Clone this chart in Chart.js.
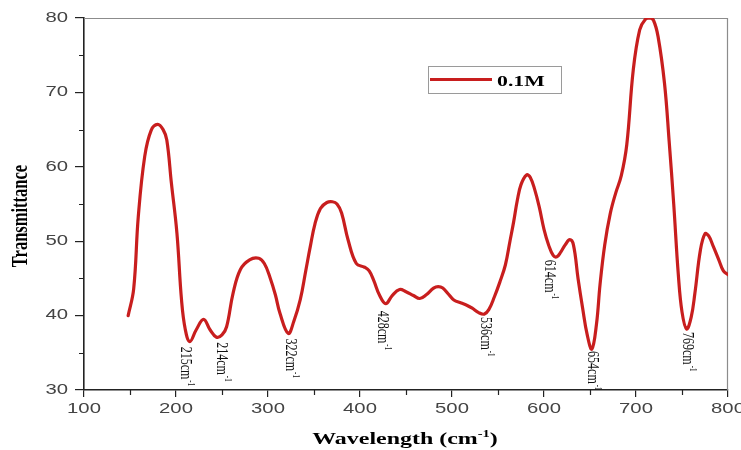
<!DOCTYPE html>
<html>
<head>
<meta charset="utf-8">
<script src="https://cdn.jsdelivr.net/npm/chart.js@4.4.1/dist/chart.umd.min.js"></script>
<style>
  html, body { margin: 0; padding: 0; background: #ffffff; }
  #wrap { width: 741px; height: 450px; }
</style>
</head>
<body>
<div id="wrap"><canvas id="c" width="741" height="450"></canvas></div>
<script>
// FTIR spectrum, 0.1M sample
const seriesLabel = '0.1M';

const wavenumbers = [
  148, 154, 159, 166, 173, 180, 186, 190, 195, 201, 206, 210, 215, 222, 230, 237, 244, 250, 255,
  262, 270, 280, 290, 296, 302, 308, 313, 322, 328, 335, 341, 346, 351, 357, 364, 370, 375, 380,
  387, 396, 405, 410, 415, 421, 428, 435, 443, 450, 458, 465, 472, 480, 485, 490, 496, 502, 510,
  516, 522, 529, 535, 540, 546, 552, 558, 563, 567, 571, 575, 581, 585, 590, 595, 600, 605, 610,
  614, 618, 623, 628, 632, 637, 642, 647, 652, 657, 661, 666, 672, 678, 684, 690, 697, 704, 710,
  715, 719, 724, 731, 736, 741, 746, 750, 755, 760, 764, 770, 775, 779, 784, 790, 795, 800
];

const transmittance = [
  40.0, 43.6, 53.3, 61.4, 64.9, 65.7, 65.0, 63.6, 57.8, 51.1, 42.1, 38.2, 36.5, 38.1, 39.5, 38.1, 37.1, 37.4, 38.5,
  43.0, 46.2, 47.5, 47.7, 47.0, 45.2, 42.8, 40.3, 37.6, 39.2, 42.1, 46.0, 49.3, 52.3, 54.4, 55.2, 55.3, 55.0, 53.8,
  50.2, 47.0, 46.5, 46.0, 44.7, 42.8, 41.6, 42.7, 43.5, 43.2, 42.7, 42.3, 42.8, 43.7, 43.9, 43.7, 42.9, 42.1, 41.7,
  41.4, 41.0, 40.4, 40.2, 40.8, 42.5, 44.5, 46.8, 50.0, 52.6, 55.5, 57.6, 58.9, 58.6, 56.9, 54.5, 51.6, 49.5, 48.1,
  47.9, 48.5, 49.5, 50.2, 49.5, 45.0, 41.0, 37.4, 35.5, 38.8, 44.3, 49.5, 53.7, 56.5, 58.8, 63.0, 73.0, 78.4, 79.8,
  80.0, 79.7, 77.5, 71.2, 63.5, 55.0, 45.5, 40.5, 38.2, 39.8, 43.0, 48.8, 51.0, 50.7, 49.3, 47.5, 46.0, 45.5
];

// Band minima that carry a label, and the text printed beside each
const bandPositions = [215, 244, 322, 428, 535, 614, 652, 755];
const bandLabels = ['215cm', '214cm', '322cm', '428cm', '536cm', '614cm', '654cm', '769cm'];

// Axis ticks
const xTickLabels = ['100', '200', '300', '400', '500', '600', '700', '800'];
const yTickLabels = ['30', '40', '50', '60', '70', '80'];
const xMinorTicks = [150, 250, 350, 450, 550, 650, 750];
const yMinorTicks = [35, 45, 55, 65, 75];

const xTitle = 'Wavelength (cm';
const yTitle = 'Transmittance';

const LINE_RED = '#c81e1e';
const SX = 1.45; // horizontal text stretch

function stretchedText(ctx, text, x, y, o) {
  ctx.save();
  ctx.translate(x, y);
  ctx.scale(o.sx || SX, 1);
  if (o.rot) ctx.rotate(o.rot);
  ctx.font = o.font;
  ctx.fillStyle = o.color || '#000';
  ctx.textAlign = o.align || 'left';
  ctx.textBaseline = o.baseline || 'alphabetic';
  ctx.fillText(text, 0, 0);
  ctx.restore();
}

// pixel nudges for each band label relative to its minimum
const bandNudge = [[-9, 5], [1, 5], [-2, 5], [-8, 7], [-3, 3], [-12, 3], [-4, 2], [-4, 3]];

const decorations = {
  id: 'decorations',
  beforeDatasetsDraw(chart) {
    const { ctx, chartArea: a, scales: { x, y } } = chart;
    ctx.save();
    // top and right frame
    ctx.strokeStyle = '#8c8c8c';
    ctx.lineWidth = 1.2;
    ctx.beginPath();
    ctx.moveTo(a.left, a.top + 0.5);
    ctx.lineTo(a.right - 0.5, a.top + 0.5);
    ctx.lineTo(a.right - 0.5, a.bottom);
    ctx.stroke();
    // minor ticks
    ctx.strokeStyle = '#222';
    ctx.lineWidth = 1.2;
    ctx.beginPath();
    xMinorTicks.forEach(v => {
      const px = Math.round(x.getPixelForValue(v)) + 0.5;
      ctx.moveTo(px, a.bottom);
      ctx.lineTo(px, a.bottom + 5);
    });
    yMinorTicks.forEach(v => {
      const py = Math.round(y.getPixelForValue(v)) + 0.5;
      ctx.moveTo(a.left - 5, py);
      ctx.lineTo(a.left, py);
    });
    ctx.stroke();
    ctx.restore();
  },
  afterDraw(chart) {
    const { ctx, chartArea: a, scales: { x, y } } = chart;
    const sans = '14px "Liberation Sans", Arial, sans-serif';

    // tick labels
    xTickLabels.forEach(t => {
      stretchedText(ctx, t, x.getPixelForValue(Number(t)), a.bottom + 12,
        { font: sans, color: '#444', align: 'center', baseline: 'top' });
    });
    yTickLabels.forEach(t => {
      stretchedText(ctx, t, a.left - 16, y.getPixelForValue(Number(t)),
        { font: sans, color: '#444', align: 'right', baseline: 'middle' });
    });

    // x title with superscript
    ctx.save();
    const tFont = 'bold 16.5px "Liberation Serif", "Times New Roman", serif';
    const sFont = 'bold 10px "Liberation Serif", "Times New Roman", serif';
    ctx.font = tFont;
    const w1 = ctx.measureText(xTitle).width;
    const w3 = ctx.measureText(')').width;
    ctx.font = sFont;
    const w2 = ctx.measureText('-1').width;
    ctx.restore();
    const total = (w1 + w2 + w3) * SX;
    const cx = (a.left + a.right) / 2 - 1;
    let tx = cx - total / 2;
    const ty = 444;
    stretchedText(ctx, xTitle, tx, ty, { font: tFont });
    tx += w1 * SX;
    stretchedText(ctx, '-1', tx, ty - 7, { font: sFont });
    tx += w2 * SX;
    stretchedText(ctx, ')', tx, ty, { font: tFont });

    // y title
    stretchedText(ctx, yTitle, 21, (a.top + a.bottom) / 2 + 12,
      { font: 'bold 16.5px "Liberation Serif", "Times New Roman", serif', rot: -Math.PI / 2, align: 'center', baseline: 'middle' });

    // band labels, rotated to read downward
    const bFont = '12px "Liberation Serif", "Times New Roman", serif';
    const bsFont = '7px "Liberation Serif", "Times New Roman", serif';
    bandPositions.forEach((pos, i) => {
      const k = wavenumbers.indexOf(pos);
      const px = x.getPixelForValue(pos) + bandNudge[i][0];
      const py = y.getPixelForValue(transmittance[k]) + bandNudge[i][1];
      ctx.save();
      ctx.translate(px, py);
      ctx.scale(SX, 1);
      ctx.rotate(Math.PI / 2);
      ctx.fillStyle = '#111';
      ctx.textBaseline = 'alphabetic';
      ctx.textAlign = 'left';
      ctx.font = bFont;
      ctx.fillText(bandLabels[i], 0, 0);
      const bw = ctx.measureText(bandLabels[i]).width;
      ctx.font = bsFont;
      ctx.fillText('-1', bw + 1, -5);
      ctx.restore();
    });

    // legend
    const ds = chart.data.datasets[0];
    ctx.save();
    ctx.strokeStyle = '#9a9a9a';
    ctx.lineWidth = 1;
    ctx.strokeRect(428.5, 66.5, 133, 27);
    ctx.strokeStyle = ds.borderColor;
    ctx.lineWidth = 3;
    ctx.beginPath();
    ctx.moveTo(430, 79.5);
    ctx.lineTo(492, 79.5);
    ctx.stroke();
    ctx.restore();
    stretchedText(ctx, ds.label, 497, 85.5,
      { font: 'bold 15px "Liberation Serif", "Times New Roman", serif', sx: 1.45 });
  }
};

new Chart(document.getElementById('c'), {
  type: 'line',
  data: {
    datasets: [{
      label: seriesLabel,
      data: wavenumbers.map((w, i) => ({ x: w, y: transmittance[i] })),
      borderColor: LINE_RED,
      borderWidth: 3.2,
      pointRadius: 0,
      fill: false,
      tension: 0.4,
      borderJoinStyle: 'round',
      borderCapStyle: 'round'
    }]
  },
  options: {
    responsive: false,
    animation: false,
    devicePixelRatio: 1,
    layout: { padding: { left: 0, right: 13, top: 18, bottom: 0 } },
    plugins: { legend: { display: false }, tooltip: { enabled: false } },
    scales: {
      x: {
        type: 'linear', min: 100, max: 800,
        ticks: { display: false, stepSize: 100 },
        grid: { drawOnChartArea: false, drawTicks: true, tickLength: 7, color: '#222', lineWidth: 1.2 },
        border: { display: true, color: '#222', width: 1.6 },
        afterFit(s) { s.height = 60; }
      },
      y: {
        min: 30, max: 80,
        ticks: { display: false, stepSize: 10 },
        grid: { drawOnChartArea: false, drawTicks: true, tickLength: 9, color: '#222', lineWidth: 1.2 },
        border: { display: true, color: '#222', width: 1.6 },
        afterFit(s) { s.width = 84; }
      }
    }
  },
  plugins: [decorations]
});
</script>
</body>
</html>
